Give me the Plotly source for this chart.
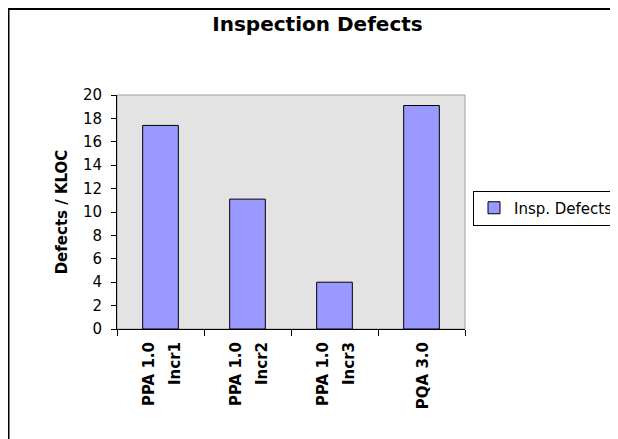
import plotly.graph_objects as go

# data
categories = ["PPA 1.0 Incr1", "PPA 1.0 Incr2", "PPA 1.0 Incr3", "PQA 3.0"]
tick_text = ["PPA 1.0<br>Incr1", "PPA 1.0<br>Incr2", "PPA 1.0<br>Incr3", "PQA 3.0"]
defects = [17.4, 11.1, 4.0, 19.1]
series_name = "Insp. Defects"
y_ticks = list(range(0, 21, 2))

# page body has an 8px margin, so the figure is 8px smaller than the window
W, H = 610, 431
L, T = 109, 87
R = W - 457
B = H - 321
pw, ph = W - L - R, H - T - B


def px(x):
    return (x - L) / pw


def py(y):
    return (H - B - y) / ph


FONT = "DejaVu Sans, Liberation Sans, Arial, sans-serif"

# bold labels with a wider line spacing than plotly's default
wide_ticks = ["<b>" + "<br>".join(
    f"<span style='font-size:15px'>{p}</span>" for p in t.split("<br>")) + "</b>"
    for t in tick_text]

fig = go.Figure()
fig.add_trace(go.Bar(
    x=categories, y=defects, name=series_name,
    marker=dict(color="#9999ff", line=dict(color="black", width=1)),
    showlegend=True,
))

fig.update_layout(
    width=W, height=H,
    margin=dict(l=L, r=R, t=T, b=B, autoexpand=False),
    paper_bgcolor="white", plot_bgcolor="#e3e3e3",
    font=dict(family=FONT, color="black", size=15),
    title=dict(text="<b>Inspection Defects</b>", x=309.5 / W, xref="container",
               xanchor="center", y=1 - 15.5 / H, yanchor="middle",
               font=dict(size=20)),
    bargap=0.59,
    showlegend=True,
    legend=dict(x=px(465), xanchor="left", y=py(200), yanchor="middle",
                bordercolor="black", borderwidth=1, bgcolor="white",
                font=dict(size=15), itemwidth=30),
    xaxis=dict(showline=True, linecolor="black", linewidth=1, ticks="outside",
               tickson="boundaries", ticklen=6, tickcolor="black", tickangle=-90,
               tickmode="array", tickvals=categories, ticktext=wide_ticks,
               tickfont=dict(size=20), ticklabelstandoff=4, showgrid=False),
    yaxis=dict(range=[0, 20], tickvals=y_ticks, showline=True, linecolor="black",
               linewidth=1, ticks="outside", ticklen=5, tickcolor="black",
               tickfont=dict(size=15), ticklabelstandoff=6, showgrid=False,
               zeroline=False,
               title=dict(text="<b>Defects / KLOC</b>", font=dict(size=15), standoff=11)),
    shapes=[
        # plot frame (top/right grey)
        dict(type="rect", xref="paper", yref="paper", x0=0, x1=1, y0=0, y1=1,
             line=dict(color="#a0a0a0", width=1), layer="below"),
        # outer chart border, runs off the right and bottom of the picture
        dict(type="rect", xref="paper", yref="paper", x0=px(0.5), x1=px(W + 10),
             y0=py(H + 10), y1=py(1), line=dict(color="black", width=2)),
    ],
)

fig.write_html("out.html")
